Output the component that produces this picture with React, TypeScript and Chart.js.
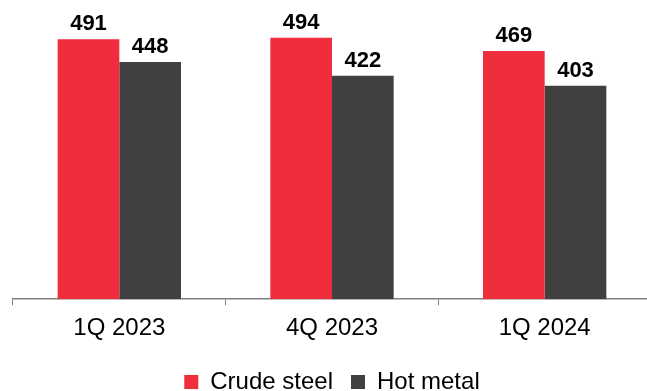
import React, { useEffect, useRef } from "react";
import { Chart, registerables } from "chart.js";

Chart.register(...registerables);

const categories = ["1Q 2023", "4Q 2023", "1Q 2024"];
const crudeSteel = [491, 494, 469];
const hotMetal = [448, 422, 403];
const seriesNames = ["Crude steel", "Hot metal"];

const FONT = "'Liberation Sans', Arial, sans-serif";

const valueLabels = {
  id: "valueLabels",
  afterDatasetsDraw(chart: any) {
    const ctx = chart.ctx;
    ctx.save();
    ctx.font = `bold 22px ${FONT}`;
    ctx.fillStyle = "#000000";
    ctx.textAlign = "center";
    ctx.textBaseline = "alphabetic";
    chart.data.datasets.forEach((ds: any, di: number) => {
      const meta = chart.getDatasetMeta(di);
      meta.data.forEach((bar: any, i: number) => {
        ctx.fillText(String(ds.data[i]), bar.x, bar.y - 9);
      });
    });
    ctx.restore();
  },
};

export default function App() {
  const ref = useRef<HTMLCanvasElement>(null);
  useEffect(() => {
    document.body.style.margin = "0";
    const chart = new Chart(ref.current!, {
      type: "bar",
      data: {
        labels: categories,
        datasets: [
          { label: seriesNames[0], data: crudeSteel, backgroundColor: "#EE2E3C", categoryPercentage: 0.58, barPercentage: 1 },
          { label: seriesNames[1], data: hotMetal, backgroundColor: "#404040", categoryPercentage: 0.58, barPercentage: 1 },
        ],
      },
      options: {
        responsive: false,
        animation: false,
        layout: { padding: { top: 8, left: 13, right: 25, bottom: -13 } },
        scales: {
          x: {
            grid: { display: true, drawOnChartArea: false, drawTicks: true, tickLength: 6, color: "#808080", offset: true },
            border: { display: true, color: "#808080", width: 1.5 },
            ticks: { color: "#000000", font: { family: FONT, size: 24 }, padding: 9 },
          },
          y: { display: false, min: 0, max: 550 },
        },
        plugins: {
          legend: {
            position: "bottom",
            labels: {
              color: "#000000",
              font: { family: FONT, size: 24 },
              boxWidth: 14,
              boxHeight: 14,
              padding: 18,
            },
          },
          tooltip: { enabled: false },
        },
      },
      plugins: [valueLabels],
    });
    return () => chart.destroy();
  }, []);
  return (
    <div style={{ width: 647, height: 391, overflow: "hidden", position: "relative", background: "#fff" }}>
      <canvas ref={ref} width={676} height={391} style={{ display: "block" }} />
    </div>
  );
}
